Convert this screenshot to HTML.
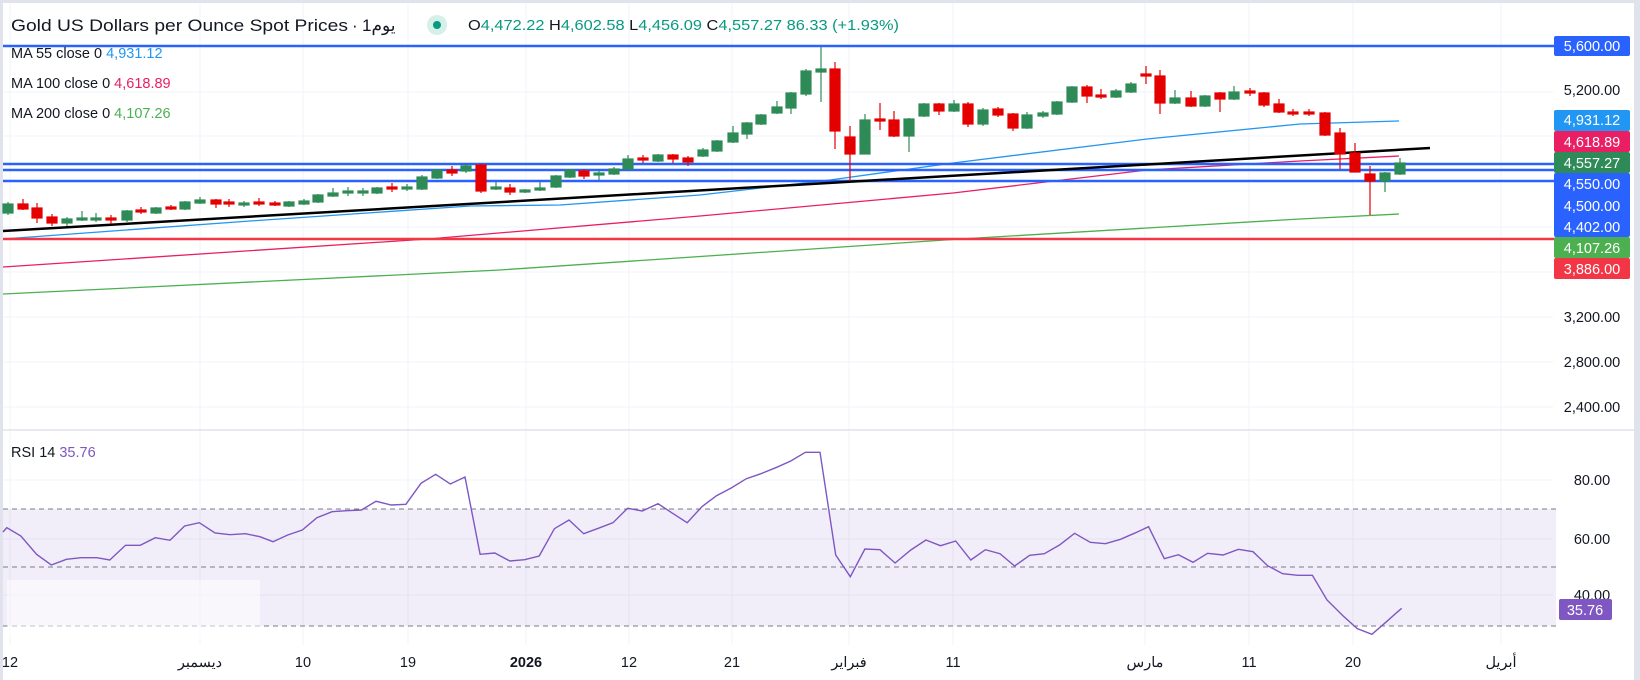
<!DOCTYPE html>
<html><head><meta charset="utf-8"><style>
html,body{margin:0;padding:0;background:#fff;}
svg{display:block;font-family:"Liberation Sans","Noto Sans CJK SC",sans-serif;}
</style></head><body>
<svg width="1640" height="680" viewBox="0 0 1640 680" xmlns="http://www.w3.org/2000/svg">
<rect x="0" y="0" width="1640" height="680" fill="#fff"/>
<rect x="0" y="0" width="1640" height="3" fill="#e0e3eb"/>
<rect x="0" y="0" width="3" height="680" fill="#e0e3eb"/>
<rect x="1634" y="0" width="6" height="680" fill="#e0e3eb"/>
<!-- grid -->
<g stroke="#f0f3fa" stroke-width="1">
<line x1="3" y1="92" x2="1553" y2="92"/><line x1="3" y1="136" x2="1553" y2="136"/><line x1="3" y1="182" x2="1553" y2="182"/><line x1="3" y1="227" x2="1553" y2="227"/><line x1="3" y1="272" x2="1553" y2="272"/><line x1="3" y1="317" x2="1553" y2="317"/><line x1="3" y1="362" x2="1553" y2="362"/><line x1="3" y1="407" x2="1553" y2="407"/>
<line x1="3" y1="480" x2="1553" y2="480"/><line x1="3" y1="539" x2="1553" y2="539"/><line x1="3" y1="595" x2="1553" y2="595"/>
<line x1="10" y1="3" x2="10" y2="645"/><line x1="200" y1="3" x2="200" y2="645"/><line x1="303" y1="3" x2="303" y2="645"/><line x1="408" y1="3" x2="408" y2="645"/><line x1="526" y1="3" x2="526" y2="645"/><line x1="629" y1="3" x2="629" y2="645"/><line x1="732" y1="3" x2="732" y2="645"/><line x1="849" y1="3" x2="849" y2="645"/><line x1="953" y1="3" x2="953" y2="645"/><line x1="1145" y1="3" x2="1145" y2="645"/><line x1="1249" y1="3" x2="1249" y2="645"/><line x1="1353" y1="3" x2="1353" y2="645"/><line x1="1501" y1="3" x2="1501" y2="645"/>
</g>
<line x1="3" y1="430" x2="1634" y2="430" stroke="#e0e3eb" stroke-width="1.5"/>
<!-- MAs -->
<polyline fill="none" stroke="#4caf50" stroke-width="1.3" points="3,294 500,270 960,239 1300,219 1399,214"/>
<polyline fill="none" stroke="#e91e63" stroke-width="1.3" points="3,267 428,239 700,216 953,193 1147,170 1300,161 1399,156"/>
<polyline fill="none" stroke="#2196f3" stroke-width="1.3" points="3,239 250,221 470,206 560,205 700,195 830,180 953,163 1147,139 1300,124 1399,121"/>
<!-- horizontals -->
<g stroke-width="2.5">
<line x1="3" y1="46" x2="1554" y2="46" stroke="#2962ff"/>
<line x1="3" y1="164" x2="1554" y2="164" stroke="#2962ff"/>
<line x1="3" y1="170" x2="1554" y2="170" stroke="#2962ff"/>
<line x1="3" y1="181" x2="1554" y2="181" stroke="#2962ff"/>
<line x1="3" y1="239" x2="1554" y2="239" stroke="#f23645"/>
</g>
<line x1="3" y1="231" x2="1430" y2="148" stroke="#000" stroke-width="2.5"/>
<!-- candles -->
<g id="c" stroke-width="1.2">
<g stroke="#2e8b57" fill="#2e8b57">
<line x1="8" y1="202" x2="8" y2="215"/><rect x="3" y="204" width="10" height="9"/>
<line x1="67" y1="217" x2="67" y2="226"/><rect x="62" y="219" width="10" height="4"/>
<line x1="82" y1="211" x2="82" y2="221"/><rect x="77" y="218" width="10" height="2"/>
<line x1="96" y1="213" x2="96" y2="222"/><rect x="91" y="218" width="10" height="2"/>
<line x1="127" y1="210" x2="127" y2="222"/><rect x="122" y="211" width="10" height="9"/>
<line x1="156" y1="207" x2="156" y2="214"/><rect x="151" y="208" width="10" height="5"/>
<line x1="185" y1="201" x2="185" y2="210"/><rect x="180" y="202" width="10" height="7"/>
<line x1="200" y1="197" x2="200" y2="204"/><rect x="195" y="200" width="10" height="3"/>
<line x1="244" y1="201" x2="244" y2="207"/><rect x="239" y="203" width="10" height="2"/>
<line x1="289" y1="201" x2="289" y2="207"/><rect x="284" y="202" width="10" height="4"/>
<line x1="304" y1="199" x2="304" y2="205"/><rect x="299" y="201" width="10" height="3"/>
<line x1="318" y1="194" x2="318" y2="203"/><rect x="313" y="195" width="10" height="7"/>
<line x1="333" y1="188" x2="333" y2="197"/><rect x="328" y="193" width="10" height="3"/>
<line x1="348" y1="187" x2="348" y2="196"/><rect x="343" y="191" width="10" height="2"/>
<line x1="363" y1="188" x2="363" y2="196"/><rect x="358" y="191" width="10" height="2"/>
<line x1="377" y1="187" x2="377" y2="194"/><rect x="372" y="188" width="10" height="5"/>
<line x1="407" y1="184" x2="407" y2="191"/><rect x="402" y="187" width="10" height="2"/>
<line x1="422" y1="175" x2="422" y2="190"/><rect x="417" y="177" width="10" height="12"/>
<line x1="437" y1="169" x2="437" y2="179"/><rect x="432" y="170" width="10" height="8"/>
<line x1="466" y1="164" x2="466" y2="173"/><rect x="461" y="166" width="10" height="5"/>
<line x1="496" y1="182" x2="496" y2="190"/><rect x="491" y="187" width="10" height="2"/>
<line x1="525" y1="189" x2="525" y2="193"/><rect x="520" y="190" width="10" height="2"/>
<line x1="540" y1="182" x2="540" y2="191"/><rect x="535" y="188" width="10" height="2"/>
<line x1="556" y1="175" x2="556" y2="188"/><rect x="551" y="176" width="10" height="11"/>
<line x1="570" y1="169" x2="570" y2="178"/><rect x="565" y="170" width="10" height="7"/>
<line x1="599" y1="170" x2="599" y2="180"/><rect x="594" y="173" width="10" height="2"/>
<line x1="614" y1="167" x2="614" y2="175"/><rect x="609" y="169" width="10" height="5"/>
<line x1="628" y1="155" x2="628" y2="170"/><rect x="623" y="159" width="10" height="10"/>
<line x1="658" y1="154" x2="658" y2="162"/><rect x="653" y="155" width="10" height="6"/>
<line x1="703" y1="148" x2="703" y2="157"/><rect x="698" y="150" width="10" height="6"/>
<line x1="717" y1="140" x2="717" y2="152"/><rect x="712" y="141" width="10" height="10"/>
<line x1="733" y1="126" x2="733" y2="143"/><rect x="728" y="133" width="10" height="9"/>
<line x1="747" y1="122" x2="747" y2="139"/><rect x="742" y="123" width="10" height="11"/>
<line x1="761" y1="114" x2="761" y2="125"/><rect x="756" y="115" width="10" height="9"/>
<line x1="777" y1="101" x2="777" y2="114"/><rect x="772" y="107" width="10" height="6"/>
<line x1="791" y1="92" x2="791" y2="114"/><rect x="786" y="93" width="10" height="15"/>
<line x1="806" y1="69" x2="806" y2="96"/><rect x="801" y="71" width="10" height="23"/>
<line x1="821" y1="47" x2="821" y2="102"/><rect x="816" y="69" width="10" height="3"/>
<line x1="865" y1="114" x2="865" y2="154"/><rect x="860" y="120" width="10" height="34"/>
<line x1="909" y1="118" x2="909" y2="152"/><rect x="904" y="119" width="10" height="17"/>
<line x1="924" y1="103" x2="924" y2="117"/><rect x="919" y="104" width="10" height="12"/>
<line x1="954" y1="100" x2="954" y2="112"/><rect x="949" y="104" width="10" height="7"/>
<line x1="983" y1="108" x2="983" y2="126"/><rect x="978" y="110" width="10" height="14"/>
<line x1="1027" y1="112" x2="1027" y2="129"/><rect x="1022" y="115" width="10" height="13"/>
<line x1="1043" y1="111" x2="1043" y2="118"/><rect x="1038" y="113" width="10" height="3"/>
<line x1="1057" y1="101" x2="1057" y2="115"/><rect x="1052" y="102" width="10" height="12"/>
<line x1="1072" y1="86" x2="1072" y2="103"/><rect x="1067" y="87" width="10" height="15"/>
<line x1="1116" y1="89" x2="1116" y2="98"/><rect x="1111" y="91" width="10" height="6"/>
<line x1="1131" y1="82" x2="1131" y2="93"/><rect x="1126" y="84" width="10" height="8"/>
<line x1="1175" y1="90" x2="1175" y2="104"/><rect x="1170" y="98" width="10" height="5"/>
<line x1="1205" y1="95" x2="1205" y2="107"/><rect x="1200" y="96" width="10" height="10"/>
<line x1="1234" y1="86" x2="1234" y2="100"/><rect x="1229" y="92" width="10" height="7"/>
<line x1="1385" y1="172" x2="1385" y2="192"/><rect x="1380" y="173" width="10" height="8"/>
<line x1="1400" y1="158" x2="1400" y2="175"/><rect x="1395" y="163" width="10" height="11"/>
</g>
<g stroke="#e50000" fill="#e50000">
<line x1="23" y1="199" x2="23" y2="210"/><rect x="18" y="204" width="10" height="5"/>
<line x1="37" y1="203" x2="37" y2="223"/><rect x="32" y="208" width="10" height="10"/>
<line x1="52" y1="214" x2="52" y2="226"/><rect x="47" y="217" width="10" height="6"/>
<line x1="111" y1="215" x2="111" y2="224"/><rect x="106" y="218" width="10" height="2"/>
<line x1="141" y1="207" x2="141" y2="214"/><rect x="136" y="210" width="10" height="2"/>
<line x1="171" y1="205" x2="171" y2="210"/><rect x="166" y="207" width="10" height="2"/>
<line x1="216" y1="199" x2="216" y2="208"/><rect x="211" y="200" width="10" height="4"/>
<line x1="229" y1="199" x2="229" y2="207"/><rect x="224" y="202" width="10" height="2"/>
<line x1="259" y1="198" x2="259" y2="206"/><rect x="254" y="202" width="10" height="2"/>
<line x1="275" y1="201" x2="275" y2="206"/><rect x="270" y="203" width="10" height="2"/>
<line x1="392" y1="183" x2="392" y2="192"/><rect x="387" y="187" width="10" height="2"/>
<line x1="452" y1="166" x2="452" y2="176"/><rect x="447" y="170" width="10" height="3"/>
<line x1="481" y1="164" x2="481" y2="193"/><rect x="476" y="165" width="10" height="26"/>
<line x1="510" y1="184" x2="510" y2="195"/><rect x="505" y="188" width="10" height="4"/>
<line x1="584" y1="169" x2="584" y2="179"/><rect x="579" y="171" width="10" height="5"/>
<line x1="643" y1="155" x2="643" y2="163"/><rect x="638" y="158" width="10" height="2"/>
<line x1="673" y1="154" x2="673" y2="163"/><rect x="668" y="155" width="10" height="4"/>
<line x1="688" y1="156" x2="688" y2="166"/><rect x="683" y="158" width="10" height="4"/>
<line x1="835" y1="62" x2="835" y2="149"/><rect x="830" y="69" width="10" height="62"/>
<line x1="850" y1="126" x2="850" y2="181"/><rect x="845" y="137" width="10" height="17"/>
<line x1="880" y1="103" x2="880" y2="130"/><rect x="875" y="119" width="10" height="2"/>
<line x1="894" y1="111" x2="894" y2="137"/><rect x="889" y="120" width="10" height="16"/>
<line x1="939" y1="103" x2="939" y2="115"/><rect x="934" y="104" width="10" height="7"/>
<line x1="968" y1="102" x2="968" y2="127"/><rect x="963" y="104" width="10" height="20"/>
<line x1="998" y1="107" x2="998" y2="117"/><rect x="993" y="109" width="10" height="6"/>
<line x1="1013" y1="113" x2="1013" y2="131"/><rect x="1008" y="114" width="10" height="14"/>
<line x1="1087" y1="85" x2="1087" y2="103"/><rect x="1082" y="87" width="10" height="9"/>
<line x1="1101" y1="89" x2="1101" y2="99"/><rect x="1096" y="95" width="10" height="2"/>
<line x1="1146" y1="66" x2="1146" y2="84"/><rect x="1141" y="74" width="10" height="2"/>
<line x1="1160" y1="70" x2="1160" y2="114"/><rect x="1155" y="76" width="10" height="27"/>
<line x1="1191" y1="91" x2="1191" y2="107"/><rect x="1186" y="98" width="10" height="8"/>
<line x1="1220" y1="92" x2="1220" y2="112"/><rect x="1215" y="93" width="10" height="6"/>
<line x1="1250" y1="88" x2="1250" y2="96"/><rect x="1245" y="91" width="10" height="2"/>
<line x1="1264" y1="92" x2="1264" y2="107"/><rect x="1259" y="93" width="10" height="12"/>
<line x1="1279" y1="99" x2="1279" y2="113"/><rect x="1274" y="104" width="10" height="8"/>
<line x1="1293" y1="109" x2="1293" y2="116"/><rect x="1288" y="112" width="10" height="2"/>
<line x1="1309" y1="109" x2="1309" y2="116"/><rect x="1304" y="112" width="10" height="2"/>
<line x1="1325" y1="112" x2="1325" y2="136"/><rect x="1320" y="113" width="10" height="22"/>
<line x1="1340" y1="128" x2="1340" y2="169"/><rect x="1335" y="133" width="10" height="21"/>
<line x1="1355" y1="143" x2="1355" y2="172"/><rect x="1350" y="153" width="10" height="19"/>
<line x1="1370" y1="166" x2="1370" y2="215"/><rect x="1365" y="174" width="10" height="7"/>
</g>
</g>
<!-- RSI -->
<rect x="3" y="509" width="1553" height="117" fill="#7e57c2" fill-opacity="0.1"/>
<g stroke="#787b86" stroke-width="1" stroke-dasharray="5,4">
<line x1="3" y1="509" x2="1556" y2="509"/><line x1="3" y1="567" x2="1556" y2="567"/><line x1="3" y1="626" x2="1556" y2="626"/>
</g>
<rect x="7" y="580" width="253" height="57" fill="#fff" fill-opacity="0.55"/>
<polyline fill="none" stroke="#7e57c2" stroke-width="1.4" points="3,532 6.8,527.7 20.9,536 36.6,554.3 51.3,565 66.4,559.3 81.1,557.7 96.8,557.7 109.8,560 125.5,545.3 140.2,545.3 155.3,537.7 170,540.3 184.6,526 199.3,522.7 215,533 230.1,534.7 245.3,533.7 259.9,536.7 273,541.7 287.7,535 302.3,530 316.9,517.7 332.1,511.7 346.8,510.7 361.4,510 376,501.3 391.2,505 405.9,504.3 421,483.3 435.7,474.3 450.3,484 465,477 480.1,554.3 494.8,553 509.9,561 524.6,559.7 539.2,556 554.4,528.7 569,520 583.7,533.7 598.3,528.3 613,522.7 627.6,508.3 642.3,511 658,503.7 672.6,513.3 687.2,522.7 701.9,506.7 716.5,495.7 731.2,488 746.3,478.7 761,473.7 776.7,467.3 790.8,461 805.4,452.3 820,452.3 835.7,555 850.3,576.7 864.9,549 880,549.7 895.1,563 910.8,550 925.9,540 940.5,545.7 955.7,541 970.8,560 985.4,549.7 1000,553.7 1014.6,566 1029.7,555.3 1044.3,553.7 1059.5,545 1074.6,533.3 1090.3,542.3 1105.4,543.7 1120.5,539.3 1135.7,532.7 1148.6,526.7 1164.3,558.7 1178.4,554.7 1193,562.3 1207.6,553.3 1223.2,555 1238.4,549.3 1253,551.7 1267.6,565.7 1282.7,573.7 1297.8,575.3 1312.4,575.3 1327,600 1343.2,616 1357.3,628.7 1371.9,634.3 1386.5,621.7 1401.6,608.3"/>
<!-- header -->
<text x="11" y="31" font-size="17" fill="#131722" textLength="337" lengthAdjust="spacingAndGlyphs">Gold US Dollars per Ounce Spot Prices</text>
<text x="352" y="31" font-size="17" fill="#131722">·</text>
<text x="362" y="31" font-size="17" fill="#131722" font-family="Liberation Sans,'Noto Sans CJK SC',sans-serif">1يوم</text>
<circle cx="437" cy="25" r="10" fill="#d5efe9"/>
<circle cx="437" cy="25" r="4" fill="#089981"/>
<text x="468" y="30" font-size="14.5" fill="#089981" textLength="431" lengthAdjust="spacingAndGlyphs"><tspan fill="#131722">O</tspan>4,472.22 <tspan fill="#131722">H</tspan>4,602.58 <tspan fill="#131722">L</tspan>4,456.09 <tspan fill="#131722">C</tspan>4,557.27 86.33 (+1.93%)</text>
<g font-size="14.5" fill="#131722">
<text x="11" y="58">MA  55 close 0 <tspan fill="#2196f3">4,931.12</tspan></text>
<text x="11" y="88">MA  100 close 0 <tspan fill="#e91e63">4,618.89</tspan></text>
<text x="11" y="118">MA  200 close 0 <tspan fill="#4caf50">4,107.26</tspan></text>
<text x="11" y="457">RSI  14 <tspan fill="#7e57c2">35.76</tspan></text>
</g>
<!-- price axis -->
<g font-size="14.5" text-anchor="middle">
<g fill="#131722">
<text x="1592" y="95">5,200.00</text><text x="1592" y="322">3,200.00</text><text x="1592" y="367">2,800.00</text><text x="1592" y="412">2,400.00</text>
<text x="1592" y="485">80.00</text><text x="1592" y="544">60.00</text><text x="1592" y="600">40.00</text>
</g>
<rect x="1554" y="36" width="76" height="20" rx="2" fill="#2962ff"/>
<rect x="1554" y="110" width="76" height="21" rx="2" fill="#2196f3"/>
<rect x="1554" y="131" width="76" height="21" rx="2" fill="#e91e63"/>
<rect x="1554" y="152" width="76" height="21" rx="2" fill="#2e8b57"/>
<rect x="1554" y="173" width="76" height="64" rx="2" fill="#2962ff"/>
<rect x="1554" y="237" width="76" height="21" rx="2" fill="#4caf50"/>
<rect x="1554" y="258" width="76" height="21" rx="2" fill="#f23645"/>
<rect x="1559" y="599" width="53" height="21" rx="2" fill="#7e57c2"/>
<g fill="#fff">
<text x="1592" y="51">5,600.00</text>
<text x="1592" y="125">4,931.12</text>
<text x="1592" y="147">4,618.89</text>
<text x="1592" y="168">4,557.27</text>
<text x="1592" y="189">4,550.00</text>
<text x="1592" y="211">4,500.00</text>
<text x="1592" y="232">4,402.00</text>
<text x="1592" y="253">4,107.26</text>
<text x="1592" y="274">3,886.00</text>
<text x="1585" y="615">35.76</text>
</g>
</g>
<!-- time axis -->
<g font-size="14.5" fill="#131722" text-anchor="middle">
<text x="10" y="667">12</text>
<text x="200" y="667">ديسمبر</text>
<text x="303" y="667">10</text>
<text x="408" y="667">19</text>
<text x="526" y="667" font-weight="bold">2026</text>
<text x="629" y="667">12</text>
<text x="732" y="667">21</text>
<text x="849" y="667">فبراير</text>
<text x="953" y="667">11</text>
<text x="1145" y="667">مارس</text>
<text x="1249" y="667">11</text>
<text x="1353" y="667">20</text>
<text x="1501" y="667">أبريل</text>
</g>
</svg>
</body></html>
